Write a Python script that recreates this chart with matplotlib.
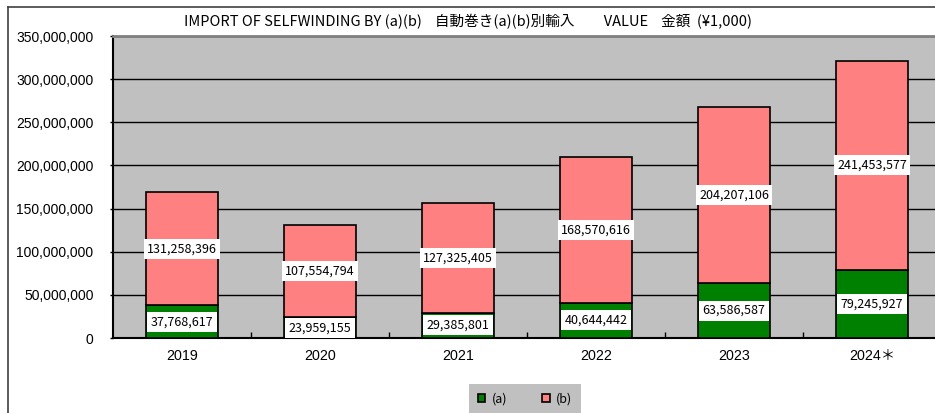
import matplotlib
matplotlib.use("Agg")
import matplotlib.pyplot as plt
from matplotlib.patches import Patch
from matplotlib.lines import Line2D
from matplotlib.ticker import FuncFormatter, MultipleLocator

years = ["2019", "2020", "2021", "2022", "2023", "2024＊"]
series_a = [37768617, 23959155, 29385801, 40644442, 63586587, 79245927]
series_b = [131258396, 107554794, 127325405, 168570616, 204207106, 241453577]
legend_labels = ["(a)", "(b)"]
title = "IMPORT OF SELFWINDING BY (a)(b)    自動巻き(a)(b)別輸入         VALUE    金額  (¥1,000)"

W, H = 935, 413
fig = plt.figure(figsize=(W / 100, H / 100), dpi=100)
fig.patch.set_facecolor("white")

# outer frame lines (top and left)
fig.add_artist(Line2D([8 / W, 1.0], [1 - 7 / H, 1 - 7 / H], color="#404040", lw=1.2))
fig.add_artist(Line2D([8 / W, 8 / W], [0, 1 - 7 / H], color="#404040", lw=1.2))

left, right, top, bottom = 113, 941, 36, 338
ax = fig.add_axes([left / W, 1 - bottom / H, (right - left) / W, (bottom - top) / H])
ax.set_facecolor("#C0C0C0")

x = list(range(len(years)))
green = "#008000"
pink = "#FF8080"
bw = 0.52
ax.bar(x, series_a, width=bw, color=green, edgecolor="black", linewidth=1.2, zorder=3)
ax.bar(x, series_b, width=bw, bottom=series_a, color=pink, edgecolor="black", linewidth=1.2, zorder=3)

ax.set_ylim(0, 350_000_000)
ax.set_xlim(-0.5, len(years) - 0.5)
ax.yaxis.set_major_locator(MultipleLocator(50_000_000))
ax.yaxis.set_major_formatter(FuncFormatter(lambda v, p: f"{int(v):,}"))
ax.grid(axis="y", color="black", linewidth=1.0, zorder=1)
ax.set_axisbelow(True)

ax.set_xticks(x)
ax.set_xticklabels(years, fontsize=10.3, family=["Liberation Sans", "Noto Sans CJK JP"])
ax.tick_params(axis="x", length=0, pad=8)
ax.set_xticks([i + 0.5 for i in x], minor=True)
ax.tick_params(axis="x", which="minor", direction="in", length=4, width=1, color="black")
ax.tick_params(axis="y", length=2, width=1, direction="out", pad=12, labelsize=10)
for lab in ax.get_yticklabels():
    lab.set_family("Liberation Sans")

for s in ["left", "bottom"]:
    ax.spines[s].set_color("black")
    ax.spines[s].set_linewidth(1.5)
ax.spines["top"].set_color("#808080")
ax.spines["top"].set_linewidth(2.0)
ax.spines["right"].set_visible(False)

bbox = dict(facecolor="white", edgecolor="none", boxstyle="square,pad=0.28")
lab_font = ["Noto Sans CJK JP", "DejaVu Sans"]
for i in x:
    a = series_a[i]
    b = series_b[i]
    ya = max(a / 2, 10_000_000)
    ax.text(i, ya, f"{a:,}", ha="center", va="center", fontsize=9,
            family=lab_font, bbox=bbox, zorder=5)
    ax.text(i, a + b / 2, f"{b:,}", ha="center", va="center", fontsize=9,
            family=lab_font, bbox=bbox, zorder=5)

fig.text(0.5, 1 - 22 / H, title, ha="center", va="center", fontsize=10.5,
         family=["Noto Sans CJK JP", "DejaVu Sans"])

handles = [Patch(facecolor=green, edgecolor="black", linewidth=1.2),
           Patch(facecolor=pink, edgecolor="black", linewidth=1.2)]
leg = fig.legend(handles, legend_labels, loc="center", bbox_to_anchor=(525 / W, 1 - 399 / H),
                 ncol=2, frameon=True, fancybox=False, facecolor="#C0C0C0", edgecolor="none",
                 framealpha=1.0, handlelength=0.6, handleheight=0.6, handletextpad=0.5,
                 columnspacing=2.8, borderpad=0.35, borderaxespad=0,
                 prop={"family": ["Noto Sans CJK JP", "DejaVu Sans"], "size": 9})
leg.get_frame().set_boxstyle("square", pad=0.35)

fig.savefig("out.png", dpi=100)
